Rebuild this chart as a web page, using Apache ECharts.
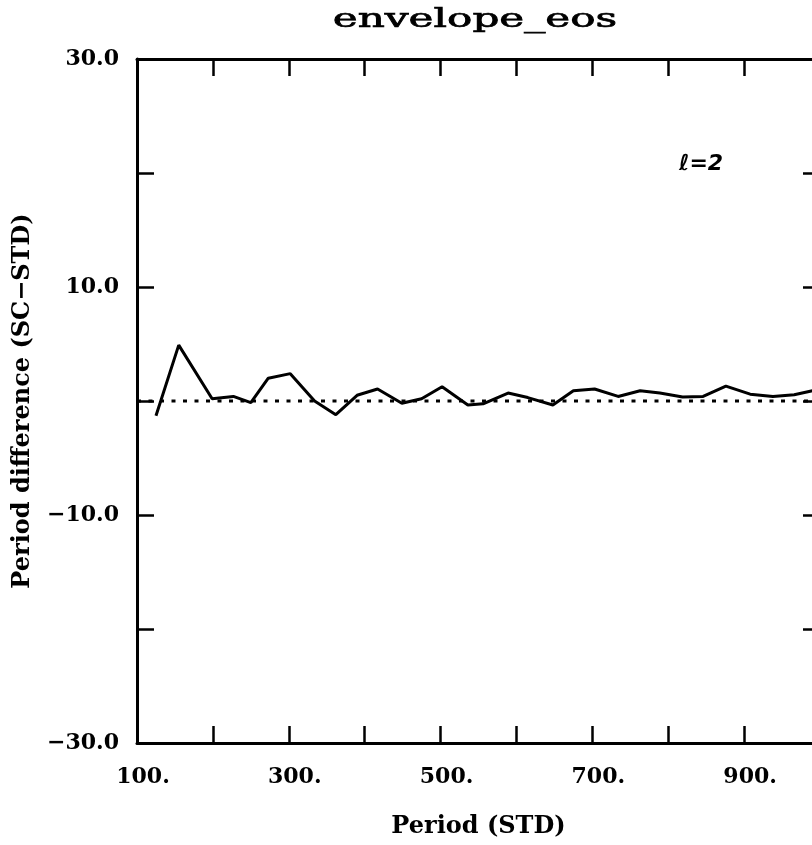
<!DOCTYPE html>
<html>
<head>
<meta charset="utf-8">
<script src="https://cdn.jsdelivr.net/npm/echarts@6/dist/echarts.min.js"></script>
<style>
  html,body{margin:0;padding:0;background:#fff;overflow:hidden;}
  #chart{width:840px;height:845px;}
</style>
</head>
<body>
<div id="chart"></div>
<script>
// period (STD) values along the curve
var periodStd = [125,155,199,227,250,273,302,334,362,390,417,449,475,502,536,556,
	589,615,648,675,703,734,763,789,819,846,876,908,938,966,990,1000];
// period difference (SC-STD)
var periodDiff = [-1.3,4.9,0.2,0.4,-0.15,2.0,2.4,0.0,-1.2,0.5,1.05,-0.2,0.2,1.25,-0.35,-0.25,
	0.7,0.3,-0.35,0.9,1.05,0.4,0.9,0.7,0.35,0.4,1.3,0.6,0.4,0.55,0.9,1.0];
// zero reference line
var zeroLineX = [100,1000];
var zeroLineY = [0,0];

var xTickLabels = [100,300,500,700,900];
var yTickLabels = [30,10,-10,-30];

var lineData = periodStd.map(function(p,i){ return [p, periodDiff[i]]; });
var zeroData = zeroLineX.map(function(p,i){ return [p, zeroLineY[i]]; });

var labelFont = '"DejaVu Serif", serif';
var axisLine = {show:true, onZero:false, lineStyle:{color:'#000', width:3}};
var tick = {show:true, inside:true, length:17, lineStyle:{color:'#000', width:2.5}};

function fmtY(v){
	if(yTickLabels.indexOf(v) < 0) return '';
	return (v < 0 ? '\u2212' + Math.abs(v).toFixed(1) : v.toFixed(1));
}
function fmtX(v){
	return xTickLabels.indexOf(v) >= 0 ? v + '.' : '';
}

var chart = echarts.init(document.getElementById('chart'));
var option = {
	animation:false,
	backgroundColor:'#fff',
	grid:{left:137, top:59, width:683, height:684},
	graphic:[
		{type:'text', x:475, y:7, scaleX:1.62,
			style:{text:'envelope_eos', font:'26px "DejaVu Serif"', fill:'#000', textAlign:'center',
				stroke:'#000', lineWidth:0.7}},
		{type:'text', x:679, y:153,
			style:{text:'\u2113=2', font:'italic bold 22px "DejaVu Sans"', fill:'#000'}}
	],
	xAxis:[{
		type:'value', min:100, max:1000, interval:100,
		name:'Period (STD)', nameLocation:'middle', nameGap:72,
		nameTextStyle:{fontFamily:labelFont, fontWeight:'bold', fontSize:24, color:'#000'},
		axisLine:axisLine, axisTick:tick, splitLine:{show:false},
		axisLabel:{formatter:fmtX, margin:23, padding:[0,0,0,12], fontFamily:labelFont, fontWeight:'bold', fontSize:22, color:'#000', showMinLabel:true, showMaxLabel:true}
	},{
		type:'value', position:'top', min:100, max:1000, interval:100,
		axisLine:axisLine, axisTick:tick, splitLine:{show:false}, axisLabel:{show:false}
	}],
	yAxis:[{
		type:'value', min:-30, max:30, interval:10,
		name:'Period difference (SC\u2212STD)', nameLocation:'middle', nameGap:102,
		nameTextStyle:{fontFamily:labelFont, fontWeight:'bold', fontSize:24, color:'#000'},
		axisLine:axisLine, axisTick:tick, splitLine:{show:false},
		axisLabel:{formatter:fmtY, margin:18, fontFamily:labelFont, fontWeight:'bold', fontSize:22, color:'#000', showMinLabel:true, showMaxLabel:true}
	},{
		type:'value', position:'right', min:-30, max:30, interval:10,
		axisLine:axisLine, axisTick:tick, splitLine:{show:false}, axisLabel:{show:false}
	}],
	series:[{
		type:'line', data:zeroData, symbol:'none',
		lineStyle:{color:'#000', width:3, type:[4,7.5]}
	},{
		type:'line', data:lineData, symbol:'none',
		lineStyle:{color:'#000', width:3}
	}]
};
chart.setOption(option);
</script>
</body>
</html>
